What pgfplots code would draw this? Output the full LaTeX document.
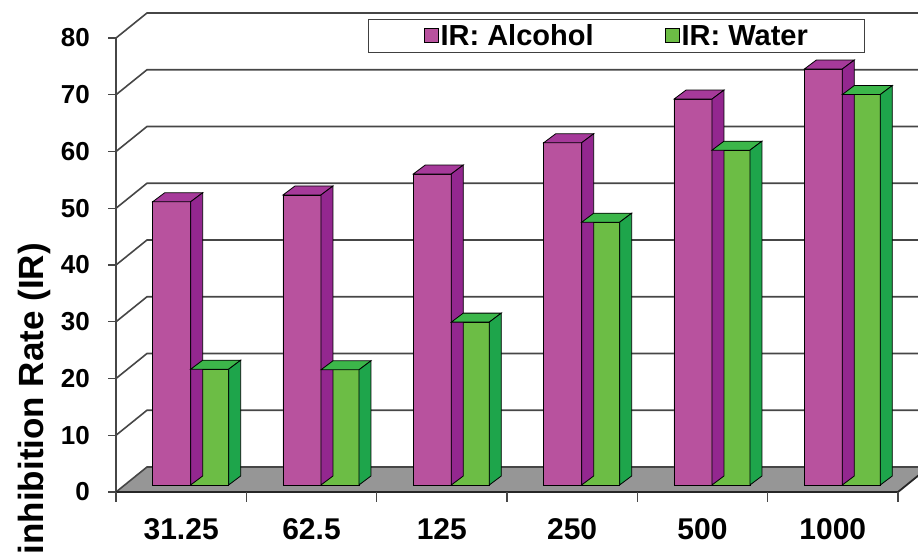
\documentclass[border=0pt]{standalone}
\usepackage{pgfplots}
\pgfplotsset{compat=1.18}
\usepackage{pgfplotstable}
\usepackage{fontspec}
\setmainfont{Liberation Sans}

\definecolor{alcF}{RGB}{184,82,158}
\definecolor{alcT}{RGB}{166,58,154}
\definecolor{alcS}{RGB}{147,39,143}
\definecolor{watF}{RGB}{108,189,69}
\definecolor{watT}{RGB}{60,182,74}
\definecolor{watS}{RGB}{30,165,75}
\definecolor{floorgray}{RGB}{150,150,150}
\definecolor{gridgray}{RGB}{70,70,70}

% inhibition rate (%) per concentration
\pgfplotstableread{
x alc wat
0 49.9 20.4
1 51.1 20.3
2 54.8 28.7
3 60.3 46.3
4 68.0 59.0
5 73.3 68.8
}\irdata

% empty mark: the scatter hook draws the top and side faces itself
\pgfdeclareplotmark{nomark}{}

% top and side faces of a bar whose front face spans [#1pt, #1pt+38pt];
% \barval holds the bar value, 5.675pt per unit
\newcommand\prism[3]{%
  \begin{pgfscope}
    \pgfsetlinewidth{0.8pt}\pgfsetstrokecolor{black}%
    \pgfsetfillcolor{#2}%
    \pgfpathmoveto{\pgfqpoint{#1pt}{0pt}}%
    \pgfpathlineto{\pgfqpoint{\dimexpr#1pt+38pt\relax}{0pt}}%
    \pgfpathlineto{\pgfqpoint{\dimexpr#1pt+50pt\relax}{9pt}}%
    \pgfpathlineto{\pgfqpoint{\dimexpr#1pt+12pt\relax}{9pt}}%
    \pgfpathclose
    \pgfusepath{fill,stroke}%
    \pgfsetfillcolor{#3}%
    \pgfpathmoveto{\pgfqpoint{\dimexpr#1pt+38pt\relax}{0pt}}%
    \pgfpathlineto{\pgfqpoint{\dimexpr#1pt+50pt\relax}{9pt}}%
    \pgfpathlineto{\pgfqpoint{\dimexpr#1pt+50pt\relax}{\dimexpr9pt-\barval pt*5675/1000\relax}}%
    \pgfpathlineto{\pgfqpoint{\dimexpr#1pt+38pt\relax}{\dimexpr-\barval pt*5675/1000\relax}}%
    \pgfpathclose
    \pgfusepath{fill,stroke}%
  \end{pgfscope}}

\begin{document}
\begin{tikzpicture}[x=1pt,y=1pt]
\useasboundingbox (0,0) rectangle (918,559);
\clip (0,0) rectangle (918,559);

% floor
\fill[floorgray] (116,67) -- (898,67) -- (929,92) -- (147,92) -- cycle;
% side wall and back wall grid lines
\foreach \v in {0,10,...,80}{
  \draw[gridgray, line width=1.6pt]
    (116,{67+5.675*\v}) -- (147,{92+5.675*\v}) -- (935,{92+5.675*\v});
  \draw[gridgray, line width=1.4pt] (108,{67+5.675*\v}) -- (116,{67+5.675*\v});
}
% front vertical axis
\draw[gridgray, line width=1.6pt] (116,67) -- (116,521);
% front horizontal axis with category ticks
\draw[black!85, line width=1.8pt] (116,67) -- (898,67) -- (935,97);
\foreach \k in {0,...,6}{
  \draw[gridgray, line width=1.4pt] ({116+130.33*\k},67) -- ({116+130.33*\k},57);
}

\begin{axis}[
  at={(125.5pt,74pt)}, anchor=south west,
  x=130.33pt, y=5.675pt,
  xmin=-0.5, xmax=5.5, ymin=0, ymax=80,
  clip=false,
  axis line style={draw=none},
  tick style={draw=none},
  major tick length=0pt,
  xtick={0,...,5},
  xticklabels={31.25,62.5,125,250,500,1000},
  ytick={0,10,...,80},
  /pgf/number format/assume math mode=true,
  xticklabel style={font=\fontsize{30}{30}\selectfont\bfseries,
    anchor=north, inner sep=0pt, xshift=-9.5pt, yshift=-33pt},
  yticklabel style={font=\fontsize{26}{26}\selectfont\bfseries,
    anchor=east, inner sep=0pt, xshift=-35.5pt, yshift=-7pt},
  legend columns=2,
  legend style={at={(axis description cs:0.3101,1.0264)}, anchor=north west,
    draw=black!75, line width=1.2pt, fill=white,
    font=\fontsize{29}{29}\selectfont\bfseries,
    inner xsep=55pt, inner ysep=3pt,
    /tikz/every even column/.append style={column sep=69pt}},
]
\addplot[ybar, bar width=38pt, bar shift=-19pt, fill=alcF, draw=black, line width=0.8pt,
  legend image code/.code={\draw[fill=alcF, draw=black, line width=1pt] (0pt,-7pt) rectangle (14pt,7pt);}]
  table[x=x, y=alc]{\irdata};
\addlegendentry{IR: Alcohol}
\addplot[scatter, only marks, mark=nomark, forget plot,
  visualization depends on={y \as \barval},
  scatter/@pre marker code/.code={\prism{-38}{alcT}{alcS}},
  scatter/@post marker code/.code={}]
  table[x=x, y=alc]{\irdata};
\addplot[ybar, bar width=38pt, bar shift=19pt, fill=watF, draw=black, line width=0.8pt,
  legend image code/.code={\draw[fill=watF, draw=black, line width=1pt] (0pt,-7pt) rectangle (14pt,7pt);}]
  table[x=x, y=wat]{\irdata};
\addlegendentry{IR: Water}
\addplot[scatter, only marks, mark=nomark, forget plot,
  visualization depends on={y \as \barval},
  scatter/@pre marker code/.code={\prism{0}{watT}{watS}},
  scatter/@post marker code/.code={}]
  table[x=x, y=wat]{\irdata};
\end{axis}

\node[rotate=90, anchor=base east, inner sep=0pt,
  font=\fontsize{35}{35}\selectfont\bfseries] at (43,316) {inhibition Rate (IR)};
\end{tikzpicture}
\end{document}
